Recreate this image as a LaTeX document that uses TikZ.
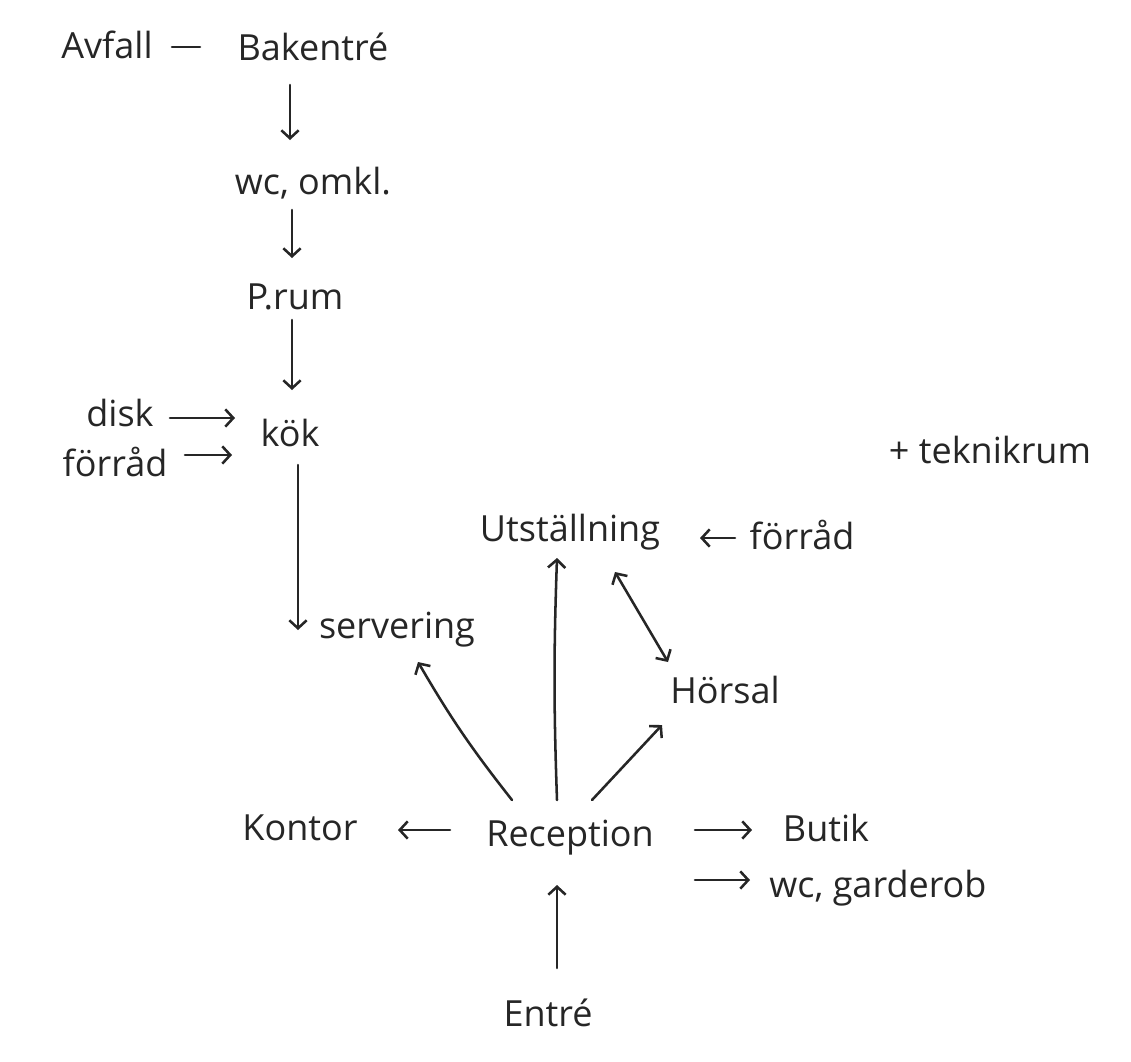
\documentclass[tikz,border=0pt]{standalone}
\usepackage{fontspec}
\setmainfont{Open Sans}
\usetikzlibrary{arrows.meta}
\tikzset{
  lbl/.style={inner sep=0pt, font=\fontsize{27}{32}\selectfont, text=black!85},
  con/.style={line width=1.9pt, draw=black!85, line cap=round},
  arr/.style={con, -{Straight Barb[length=6pt,width=13pt,line width=1.9pt]}},
  darr/.style={con, {Straight Barb[length=6pt,width=13pt,line width=1.9pt]}-{Straight Barb[length=6pt,width=13pt,line width=1.9pt]}}
}
\begin{document}
\begin{tikzpicture}[x=0.75pt,y=-0.75pt]
\useasboundingbox[fill=white] (0,0) rectangle (1131,1061);
% nodes
\node[lbl] (avfall) at (107,45) {Avfall};
\node[lbl] (bak) at (313,47) {Bakentré};
\node[lbl] (wc1) at (313,183) {wc, omkl.};
\node[lbl] (prum) at (295,297) {P.rum};
\node[lbl] (kok) at (290,433) {kök};
\node[lbl] (disk) at (120,413) {disk};
\node[lbl] (forr1) at (115,462) {förråd};
\node[lbl] (serv) at (397,630) {servering};
\node[lbl] (tek) at (990,450) {+ teknikrum};
\node[lbl] (utst) at (570,532) {Utställning};
\node[lbl] (forr2) at (802,535) {förråd};
\node[lbl] (hors) at (725,690) {Hörsal};
\node[lbl] (kontor) at (300,828) {Kontor};
\node[lbl] (rec) at (570,838) {Reception};
\node[lbl] (butik) at (826,828) {Butik};
\node[lbl] (wc2) at (878,888) {wc, garderob};
\node[lbl] (entre) at (548,1013) {Entré};
% connectors
\draw[con] ([shift={(65,2)}]avfall.center) -- ([shift={(-113,0)}]bak.center);
\draw[arr] ([shift={(-23,38)}]bak.center) -- ([shift={(-23,-43)}]wc1.center);
\draw[arr] ([shift={(-21,27)}]wc1.center) -- ([shift={(-3,-39)}]prum.center);
\draw[arr] ([shift={(-3,23)}]prum.center) -- ([shift={(2,-43)}]kok.center);
\draw[arr] ([shift={(50,5)}]disk.center) -- ([shift={(-55,-15)}]kok.center);
\draw[arr] ([shift={(70,-7)}]forr1.center) -- ([shift={(-58,22)}]kok.center);
\draw[arr] ([shift={(8,32)}]kok.center) -- ([shift={(-99,0)}]serv.center);
\draw[arr] ([shift={(-67,3)}]forr2.center) -- ([shift={(130,6)}]utst.center);
\draw[darr] ([shift={(45,40)}]utst.center) -- ([shift={(-57,-28)}]hors.center);
\draw[arr] ([shift={(-58,-38)}]rec.center) to[bend left=4] ([shift={(21,32)}]serv.center);
\draw[arr] ([shift={(-13,-38)}]rec.center) to[bend left=2] ([shift={(-13,26)}]utst.center);
\draw[arr] ([shift={(22,-38)}]rec.center) -- ([shift={(-63,35)}]hors.center);
\draw[arr] ([shift={(-120,-8)}]rec.center) -- ([shift={(98,2)}]kontor.center);
\draw[arr] ([shift={(125,-8)}]rec.center) -- ([shift={(-74,2)}]butik.center);
\draw[arr] ([shift={(125,42)}]rec.center) -- ([shift={(-128,-8)}]wc2.center);
\draw[arr] ([shift={(9,-45)}]entre.center) -- ([shift={(-13,47)}]rec.center);
\end{tikzpicture}
\end{document}
